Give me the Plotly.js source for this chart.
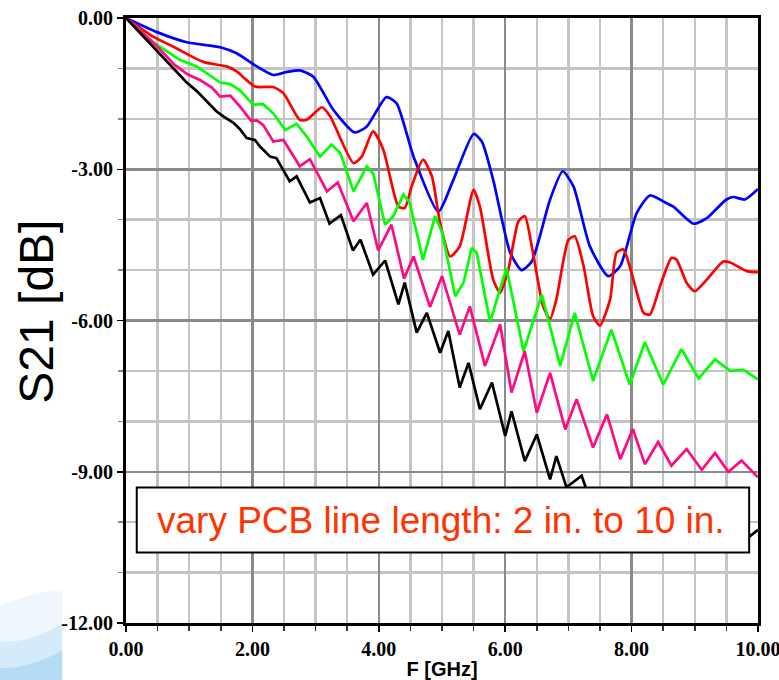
<!DOCTYPE html>
<html>
<head>
<meta charset="utf-8">
<script src="https://cdn.plot.ly/plotly-3.0.1.min.js"></script>
<style>html,body{margin:0;padding:0;background:#fff;}#chart{width:779px;height:680px;}</style>
</head>
<body>
<div id="chart"></div>
<script>
// Frequency (GHz) and S21 (dB), one curve per PCB line length
const blueX = [0, 0.49, 0.96, 1.49, 1.75, 2.07, 2.33, 2.55, 2.75, 2.96, 3.28, 3.62, 3.81, 4.12, 4.28, 4.55, 4.94, 5.18, 5.50, 5.63, 5.81, 6.08, 6.26, 6.42, 6.71, 6.91, 7.08, 7.34, 7.63, 7.82, 8.08, 8.29, 8.55, 8.66, 8.98, 9.19, 9.50, 9.61, 9.79, 10.0];
const blueY = [0, -0.28, -0.48, -0.58, -0.70, -0.96, -1.13, -1.07, -1.04, -1.16, -1.82, -2.27, -2.15, -1.57, -1.69, -2.75, -3.84, -3.21, -2.30, -2.45, -3.21, -4.66, -5.00, -4.83, -3.60, -3.04, -3.34, -4.53, -5.12, -4.92, -3.87, -3.52, -3.67, -3.74, -4.08, -3.97, -3.60, -3.55, -3.60, -3.39];

const redX = [0, 0.43, 0.75, 1.22, 1.59, 1.75, 2.04, 2.33, 2.49, 2.75, 2.86, 3.10, 3.23, 3.60, 3.73, 3.91, 4.07, 4.31, 4.41, 4.52, 4.70, 4.84, 4.97, 5.13, 5.28, 5.50, 5.60, 5.81, 5.92, 6.05, 6.21, 6.31, 6.44, 6.60, 6.71, 6.81, 7.00, 7.10, 7.24, 7.39, 7.50, 7.66, 7.76, 7.87, 8.00, 8.19, 8.29, 8.45, 8.63, 8.71, 8.87, 9.00, 9.19, 9.45, 9.56, 9.82, 10.0];
const redY = [0, -0.37, -0.57, -0.87, -0.96, -1.06, -1.36, -1.37, -1.49, -2.02, -2.02, -1.77, -1.95, -2.88, -2.75, -2.25, -2.61, -3.74, -3.77, -3.34, -2.81, -3.14, -4.07, -4.73, -4.53, -3.41, -3.74, -5.19, -5.45, -4.99, -4.03, -3.93, -4.66, -5.72, -5.97, -5.58, -4.40, -4.33, -4.92, -5.91, -6.10, -5.58, -4.66, -4.59, -5.06, -5.85, -5.88, -5.32, -4.76, -4.79, -5.25, -5.42, -5.19, -4.83, -4.85, -5.02, -5.04];

const greenX = [0, 0.43, 0.85, 1.12, 1.49, 1.65, 1.80, 2.01, 2.17, 2.33, 2.52, 2.70, 2.86, 3.07, 3.25, 3.39, 3.60, 3.81, 3.91, 4.10, 4.23, 4.39, 4.49, 4.70, 4.89, 5.00, 5.21, 5.34, 5.47, 5.55, 5.76, 6.02, 6.29, 6.58, 6.87, 7.10, 7.39, 7.68, 7.97, 8.21, 8.50, 8.79, 9.06, 9.32, 9.56, 9.77, 10.0];
const greenY = [0, -0.48, -0.83, -0.96, -1.28, -1.31, -1.43, -1.72, -1.71, -1.89, -2.22, -2.10, -2.35, -2.75, -2.51, -2.68, -3.44, -2.94, -3.08, -4.10, -3.93, -3.50, -3.67, -4.80, -3.93, -4.25, -5.52, -5.25, -4.56, -4.66, -6.03, -4.96, -6.61, -5.49, -6.90, -5.85, -7.20, -6.18, -7.27, -6.43, -7.27, -6.57, -7.15, -6.77, -7.00, -6.98, -7.17];

const pinkX = [0, 0.27, 0.49, 0.77, 0.98, 1.17, 1.36, 1.49, 1.65, 1.80, 1.98, 2.07, 2.17, 2.33, 2.49, 2.75, 2.91, 3.18, 3.35, 3.60, 3.81, 3.99, 4.20, 4.40, 4.55, 4.81, 5.00, 5.28, 5.44, 5.68, 5.92, 6.10, 6.31, 6.50, 6.71, 6.95, 7.13, 7.39, 7.61, 7.82, 8.02, 8.21, 8.42, 8.63, 8.87, 9.11, 9.32, 9.53, 9.74, 10.0];
const pinkY = [0, -0.30, -0.56, -0.93, -1.12, -1.23, -1.38, -1.56, -1.54, -1.75, -2.04, -2.03, -2.12, -2.45, -2.42, -2.94, -2.80, -3.44, -3.26, -4.03, -3.67, -4.61, -4.10, -5.17, -4.73, -5.73, -5.12, -6.28, -5.72, -6.90, -6.08, -7.43, -6.61, -7.83, -7.04, -8.16, -7.56, -8.52, -7.86, -8.75, -8.15, -8.85, -8.41, -8.88, -8.55, -8.96, -8.63, -9.00, -8.78, -9.11];

const blackX = [0, 0.27, 0.49, 0.75, 0.96, 1.12, 1.22, 1.43, 1.54, 1.70, 1.80, 1.91, 2.04, 2.12, 2.28, 2.38, 2.59, 2.70, 2.91, 3.07, 3.22, 3.40, 3.59, 3.71, 3.91, 4.10, 4.31, 4.41, 4.60, 4.76, 4.97, 5.10, 5.28, 5.42, 5.60, 5.79, 6.00, 6.10, 6.31, 6.50, 6.71, 6.81, 6.97, 7.21, 7.45, 7.65, 7.90, 8.10, 8.35, 8.60, 8.85, 9.10, 9.35, 9.60, 9.85, 10.0];
const blackY = [0, -0.36, -0.65, -0.98, -1.28, -1.45, -1.58, -1.85, -1.95, -2.08, -2.20, -2.38, -2.42, -2.55, -2.75, -2.78, -3.24, -3.14, -3.66, -3.57, -4.08, -3.91, -4.61, -4.40, -5.09, -4.81, -5.68, -5.25, -6.24, -5.85, -6.64, -6.21, -7.33, -6.84, -7.76, -7.23, -8.29, -7.80, -8.79, -8.26, -9.15, -8.69, -9.31, -9.08, -9.95, -9.50, -10.20, -9.75, -10.35, -9.95, -10.40, -10.05, -10.40, -10.10, -10.30, -10.15];

const xTickVals = [0, 2, 4, 6, 8, 10];
const xTickText = ["0.00", "2.00", "4.00", "6.00", "8.00", "10.00"];
const yTickVals = [0, -3, -6, -9, -12];
const yTickText = ["0.00", "-3.00", "-6.00", "-9.00", "-12.00"];
const yTitle = "S21 [dB]";
const xTitle = "F [GHz]";
const noteText = "vary PCB line length: 2 in. to 10 in.";

const series = [
  {x: blueX, y: blueY, color: '#0000FF', shape: 'spline'},
  {x: redX, y: redY, color: '#FF0000', shape: 'spline'},
  {x: greenX, y: greenY, color: '#00FF00', shape: 'linear'},
  {x: pinkX, y: pinkY, color: '#FF0A84', shape: 'linear'},
  {x: blackX, y: blackY, color: '#000000', shape: 'linear'}
];

const traces = series.map(s => ({
  x: s.x, y: s.y, type: 'scatter', mode: 'lines',
  line: {color: s.color, width: 2.7, shape: s.shape, smoothing: 0.6},
  hoverinfo: 'skip'
}));

const tickFont = {family: 'Liberation Serif, Times New Roman, serif', size: 20, color: '#000', weight: 'bold'};

const layout = {
  width: 779, height: 680,
  margin: {l: 126, r: 21, t: 18, b: 57, pad: 0},
  paper_bgcolor: '#ffffff', plot_bgcolor: '#ffffff',
  showlegend: false,
  xaxis: {
    range: [0, 10], tickmode: 'array', tickvals: xTickVals, ticktext: xTickText,
    ticklabeloverflow: 'allow',
    ticks: 'outside', ticklen: 6, tickwidth: 1.5, tickcolor: '#000',
    tickfont: tickFont,
    showgrid: true, gridcolor: '#8a8a8a', gridwidth: 2.5,
    minor: {dtick: 0.5, tick0: 0, ticks: 'outside', ticklen: 5, tickwidth: 1.5, tickcolor: '#333', showgrid: true, gridcolor: '#c4c4c4', gridwidth: 2.5},
    showline: true, linecolor: '#000', linewidth: 3, mirror: true,
    zeroline: false, fixedrange: true,
    title: {text: xTitle, font: {family: 'Liberation Sans, Arial, sans-serif', size: 20, color: '#000', weight: 'bold'}, standoff: 6}
  },
  yaxis: {
    range: [-12, 0], tickmode: 'array', tickvals: yTickVals, ticktext: yTickText,
    ticks: 'outside', ticklen: 6, tickwidth: 1.5, tickcolor: '#000',
    tickfont: tickFont,
    showgrid: true, gridcolor: '#8a8a8a', gridwidth: 2.5,
    minor: {dtick: 1, tick0: 0, ticks: 'outside', ticklen: 5, tickwidth: 1.5, tickcolor: '#888', showgrid: true, gridcolor: '#c4c4c4', gridwidth: 2.5},
    showline: true, linecolor: '#000', linewidth: 3, mirror: true,
    zeroline: false, fixedrange: true
  },
  shapes: [
    {type: 'path', xref: 'paper', yref: 'paper', layer: 'below',
     path: 'M -0.2,-0.095 L -0.2,0.03 Q -0.15,0.05 -0.101,0.055 L -0.101,-0.095 Z',
     fillcolor: 'rgba(228,242,251,0.6)', line: {width: 0}},
    {type: 'path', xref: 'paper', yref: 'paper', layer: 'below',
     path: 'M -0.2,-0.095 L -0.2,-0.03 Q -0.15,-0.035 -0.101,0.0 L -0.101,-0.095 Z',
     fillcolor: 'rgba(190,225,246,0.55)', line: {width: 0}},
    {type: 'path', xref: 'paper', yref: 'paper', layer: 'below',
     path: 'M -0.2,-0.095 L -0.2,-0.075 Q -0.15,-0.075 -0.101,-0.045 L -0.101,-0.095 Z',
     fillcolor: 'rgba(150,205,240,0.5)', line: {width: 0}},
    {type: 'rect', xref: 'x', yref: 'y', layer: 'above',
     x0: 0.17, x1: 9.86, y0: -10.60, y1: -9.31,
     fillcolor: '#ffffff', line: {color: '#000', width: 2}}
  ],
  annotations: [
    {xref: 'paper', yref: 'paper', x: -0.142, y: 0.515, text: yTitle, showarrow: false,
     textangle: -90, xanchor: 'center', yanchor: 'middle',
     font: {family: 'Liberation Sans, Arial, sans-serif', size: 48, color: '#000'}},
    {xref: 'x', yref: 'y', x: 4.99, y: -9.96, text: noteText, showarrow: false,
     xanchor: 'center', yanchor: 'middle',
     font: {family: 'Liberation Sans, Arial, sans-serif', size: 37, color: 'rgb(255,51,0)'}}
  ]
};

Plotly.newPlot('chart', traces, layout, {displayModeBar: false, staticPlot: true});
</script>
</body>
</html>
